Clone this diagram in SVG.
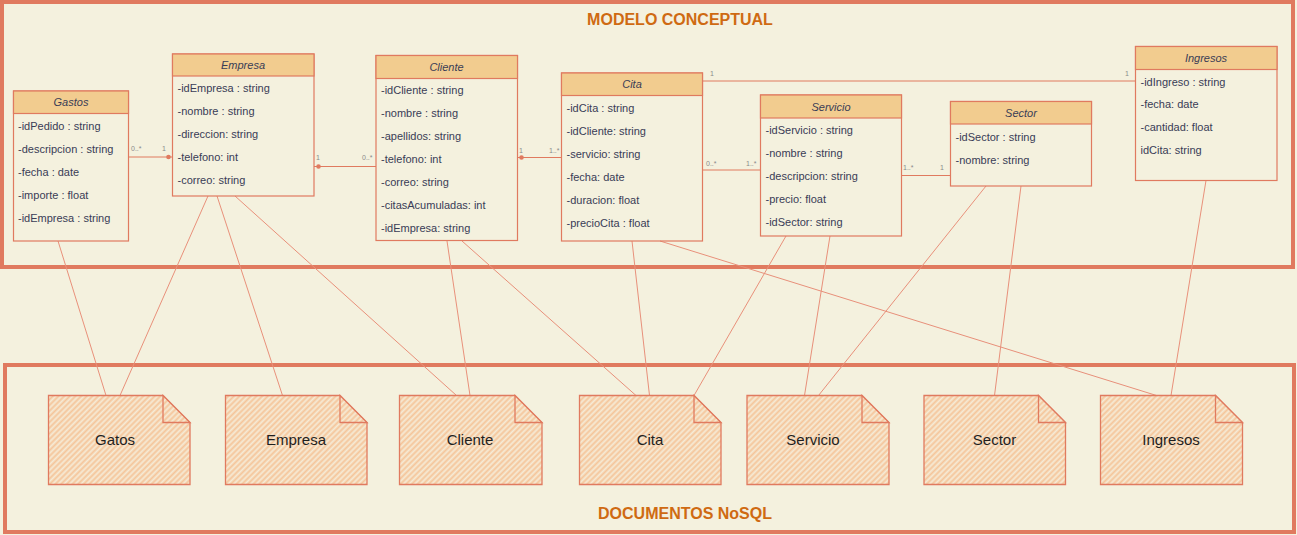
<svg xmlns="http://www.w3.org/2000/svg" width="1297" height="535" viewBox="0 0 1297 535">
<defs>
<pattern id="hatch" patternUnits="userSpaceOnUse" width="4" height="4" patternTransform="rotate(-45)">
<rect width="4" height="4" fill="#F6EBD6"/>
<line x1="0" y1="1.5" x2="4" y2="1.5" stroke="#F5C59A" stroke-width="2"/>
</pattern>
<style>
.frame{fill:none;stroke:#E07A5F;stroke-width:4}
.title{font-family:"Liberation Sans",Arial,sans-serif;font-weight:bold;font-size:16px;fill:#CF6A12;text-anchor:middle}
.box{fill:none;stroke:#E07A5F;stroke-width:1.2}
.hdr{fill:#F2CC8F;stroke:#E07A5F;stroke-width:1.2}
.cname{font-family:"Liberation Sans",Arial,sans-serif;font-style:italic;font-size:11px;fill:#393C56;text-anchor:middle}
.attr{font-family:"Liberation Sans",Arial,sans-serif;font-size:11px;fill:#393C56}
.mult{font-family:"Liberation Sans",Arial,sans-serif;font-size:7px;fill:#8a8a8a}
.assoc{fill:none;stroke:#E07A5F;stroke-width:1}
.trace{fill:none;stroke:#E8907A;stroke-width:1}
.dot{fill:#E07A5F}
.doc{fill:url(#hatch);stroke:#E07A5F;stroke-width:1.3}
.fold{fill:url(#hatch);stroke:#E07A5F;stroke-width:1.3}
.dlabel{font-family:"Liberation Sans",Arial,sans-serif;font-size:15px;fill:#1f1f1f;text-anchor:middle}
</style>
</defs>
<rect x="0" y="0" width="1297" height="535" fill="#F4F1DE"/>

<g id="frame-conceptual">
<rect class="frame" x="2" y="2" width="1291" height="265"/>
<text class="title" x="680" y="24.5">MODELO CONCEPTUAL</text>
</g>
<g id="frame-nosql">
<rect class="frame" x="5" y="365" width="1289" height="167"/>
<text class="title" x="685" y="519">DOCUMENTOS NoSQL</text>
</g>

<g id="connectors">
<line class="assoc" x1="129" y1="157" x2="172.5" y2="157"/>
<circle class="dot" cx="168.5" cy="157" r="2.3"/>
<text class="mult" x="131" y="150.5">0..*</text>
<text class="mult" x="162" y="150.5">1</text>

<line class="assoc" x1="314" y1="166.5" x2="376" y2="166.5"/>
<circle class="dot" cx="318.5" cy="166.5" r="2.3"/>
<text class="mult" x="316" y="159.5">1</text>
<text class="mult" x="362" y="159.5">0..*</text>

<line class="assoc" x1="517.5" y1="157.5" x2="561.5" y2="157.5"/>
<circle class="dot" cx="521.5" cy="157.5" r="2.3"/>
<text class="mult" x="519" y="152.5">1</text>
<text class="mult" x="549" y="152.5">1..*</text>

<line class="assoc" x1="702.5" y1="81" x2="1135.5" y2="81"/>
<text class="mult" x="710" y="75.5">1</text>
<text class="mult" x="1125" y="75.5">1</text>

<line class="assoc" x1="702.5" y1="170" x2="760.5" y2="170"/>
<text class="mult" x="706" y="166">0..*</text>
<text class="mult" x="746" y="166">1..*</text>

<line class="assoc" x1="901.5" y1="175.5" x2="950.5" y2="175.5"/>
<text class="mult" x="903" y="170">1..*</text>
<text class="mult" x="940" y="169.5">1</text>

<line class="trace" x1="58" y1="241" x2="106" y2="395.5"/>
<line class="trace" x1="208" y1="196" x2="120" y2="395.5"/>
<line class="trace" x1="217" y1="196" x2="282.5" y2="395.5"/>
<line class="trace" x1="235" y1="196" x2="456.5" y2="395.5"/>
<line class="trace" x1="447" y1="241" x2="470" y2="395.5"/>
<line class="trace" x1="462" y1="241" x2="636" y2="395.5"/>
<line class="trace" x1="632" y1="241" x2="649.5" y2="395.5"/>
<line class="trace" x1="660" y1="241" x2="1156.5" y2="395.5"/>
<line class="trace" x1="786" y1="236" x2="694" y2="395.5"/>
<line class="trace" x1="830" y1="236" x2="804.5" y2="395.5"/>
<line class="trace" x1="986" y1="186" x2="818.5" y2="395.5"/>
<line class="trace" x1="1021" y1="186" x2="994.5" y2="395.5"/>
<line class="trace" x1="1206" y1="180.5" x2="1171" y2="395.5"/>
</g>

<g id="class-gastos">
<rect class="box" x="13.5" y="91" width="115" height="150"/>
<rect class="hdr" x="13.5" y="91" width="115" height="22.5"/>
<text class="cname" x="71" y="106">Gastos</text>
<text class="attr" x="18" y="129.5">-idPedido : string</text>
<text class="attr" x="18" y="152.5">-descripcion : string</text>
<text class="attr" x="18" y="175.5">-fecha : date</text>
<text class="attr" x="18" y="198.5">-importe : float</text>
<text class="attr" x="18" y="221.5">-idEmpresa : string</text>
</g>

<g id="class-empresa">
<rect class="box" x="172.5" y="54" width="141.5" height="142"/>
<rect class="hdr" x="172.5" y="54" width="141.5" height="22"/>
<text class="cname" x="243" y="69">Empresa</text>
<text class="attr" x="177.5" y="92">-idEmpresa : string</text>
<text class="attr" x="177.5" y="115">-nombre : string</text>
<text class="attr" x="177.5" y="138">-direccion: string</text>
<text class="attr" x="177.5" y="161">-telefono: int</text>
<text class="attr" x="177.5" y="184">-correo: string</text>
</g>

<g id="class-cliente">
<rect class="box" x="376" y="55.5" width="141.5" height="185"/>
<rect class="hdr" x="376" y="55.5" width="141.5" height="23"/>
<text class="cname" x="446.5" y="71">Cliente</text>
<text class="attr" x="381" y="93.5">-idCliente : string</text>
<text class="attr" x="381" y="116.5">-nombre : string</text>
<text class="attr" x="381" y="139.5">-apellidos: string</text>
<text class="attr" x="381" y="162.5">-telefono: int</text>
<text class="attr" x="381" y="185.5">-correo: string</text>
<text class="attr" x="381" y="208.5">-citasAcumuladas: int</text>
<text class="attr" x="381" y="231.5">-idEmpresa: string</text>
</g>

<g id="class-cita">
<rect class="box" x="561.5" y="73" width="141" height="168"/>
<rect class="hdr" x="561.5" y="73" width="141" height="22.5"/>
<text class="cname" x="632" y="88">Cita</text>
<text class="attr" x="566.5" y="111.5">-idCita : string</text>
<text class="attr" x="566.5" y="134.5">-idCliente: string</text>
<text class="attr" x="566.5" y="157.5">-servicio: string</text>
<text class="attr" x="566.5" y="180.5">-fecha: date</text>
<text class="attr" x="566.5" y="203.5">-duracion: float</text>
<text class="attr" x="566.5" y="226.5">-precioCita : float</text>
</g>

<g id="class-servicio">
<rect class="box" x="760.5" y="95" width="141" height="141"/>
<rect class="hdr" x="760.5" y="95" width="141" height="23"/>
<text class="cname" x="831" y="110.5">Servicio</text>
<text class="attr" x="765.5" y="134">-idServicio : string</text>
<text class="attr" x="765.5" y="157">-nombre : string</text>
<text class="attr" x="765.5" y="180">-descripcion: string</text>
<text class="attr" x="765.5" y="203">-precio: float</text>
<text class="attr" x="765.5" y="226">-idSector: string</text>
</g>

<g id="class-sector">
<rect class="box" x="950.5" y="101.5" width="141" height="84.5"/>
<rect class="hdr" x="950.5" y="101.5" width="141" height="22.5"/>
<text class="cname" x="1021" y="117">Sector</text>
<text class="attr" x="955.5" y="141">-idSector : string</text>
<text class="attr" x="955.5" y="164">-nombre: string</text>
</g>

<g id="class-ingresos">
<rect class="box" x="1135.5" y="46.5" width="141.5" height="134"/>
<rect class="hdr" x="1135.5" y="46.5" width="141.5" height="23"/>
<text class="cname" x="1206" y="62">Ingresos</text>
<text class="attr" x="1140.5" y="85.5">-idIngreso : string</text>
<text class="attr" x="1140.5" y="108">-fecha: date</text>
<text class="attr" x="1140.5" y="131">-cantidad: float</text>
<text class="attr" x="1140.5" y="154">idCita: string</text>
</g>

<g id="doc-gatos">
<path class="doc" d="M48.5,395.5 H163 L190,422.5 V484.5 H48.5 Z"/>
<path class="fold" d="M163,395.5 V422.5 H190 Z"/>
<text class="dlabel" x="115" y="444.5">Gatos</text>
</g>
<g id="doc-empresa">
<path class="doc" d="M225.5,395.5 H340 L367,422.5 V484.5 H225.5 Z"/>
<path class="fold" d="M340,395.5 V422.5 H367 Z"/>
<text class="dlabel" x="296" y="444.5">Empresa</text>
</g>
<g id="doc-cliente">
<path class="doc" d="M399.5,395.5 H515 L542,422.5 V484.5 H399.5 Z"/>
<path class="fold" d="M515,395.5 V422.5 H542 Z"/>
<text class="dlabel" x="470" y="444.5">Cliente</text>
</g>
<g id="doc-cita">
<path class="doc" d="M579.5,395.5 H694 L721,422.5 V484.5 H579.5 Z"/>
<path class="fold" d="M694,395.5 V422.5 H721 Z"/>
<text class="dlabel" x="650" y="444.5">Cita</text>
</g>
<g id="doc-servicio">
<path class="doc" d="M747,395.5 H862 L889,422.5 V484.5 H747 Z"/>
<path class="fold" d="M862,395.5 V422.5 H889 Z"/>
<text class="dlabel" x="813" y="444.5">Servicio</text>
</g>
<g id="doc-sector">
<path class="doc" d="M924,395.5 H1038.5 L1065.5,422.5 V484.5 H924 Z"/>
<path class="fold" d="M1038.5,395.5 V422.5 H1065.5 Z"/>
<text class="dlabel" x="994.5" y="444.5">Sector</text>
</g>
<g id="doc-ingresos">
<path class="doc" d="M1100.5,395.5 H1215.5 L1242.5,422.5 V484.5 H1100.5 Z"/>
<path class="fold" d="M1215.5,395.5 V422.5 H1242.5 Z"/>
<text class="dlabel" x="1171" y="444.5">Ingresos</text>
</g>
</svg>
